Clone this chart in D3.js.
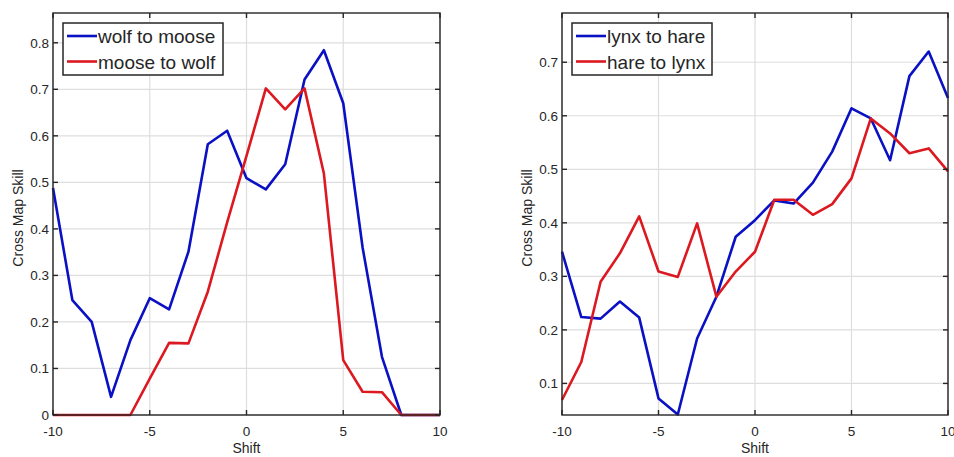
<!DOCTYPE html>
<html>
<head>
	<style>
		body { margin: 0; background: #fff; }
		svg { display: block; }
		text { font-family: "Liberation Sans", Arial, sans-serif; fill: #262626; }
	</style>
	<script src="https://d3js.org/d3.v7.min.js"></script>
</head>
<body>
	<svg id="chart" width="954" height="457"></svg>
<script>
// shift values shared by both panels
var shifts = [-10, -9, -8, -7, -6, -5, -4, -3, -2, -1, 0, 1, 2, 3, 4, 5, 6, 7, 8, 9, 10];

// left panel: wolf / moose
var wolfToMoose = [0.488, 0.247, 0.200, 0.039, 0.161, 0.251, 0.227, 0.351, 0.582, 0.611,
	0.509, 0.485, 0.539, 0.721, 0.784, 0.670, 0.360, 0.125, 0, 0, 0];
var mooseToWolf = [0, 0, 0, 0, 0, 0.078, 0.155, 0.154, 0.265, 0.414,
	0.557, 0.702, 0.657, 0.702, 0.519, 0.118, 0.050, 0.049, 0, 0, 0];

// right panel: lynx / hare
var lynxToHare = [0.346, 0.224, 0.221, 0.253, 0.223, 0.072, 0.042, 0.184, 0.262, 0.374,
	0.405, 0.442, 0.436, 0.475, 0.533, 0.614, 0.595, 0.517, 0.674, 0.720, 0.633];
var hareToLynx = [0.069, 0.140, 0.290, 0.343, 0.412, 0.309, 0.299, 0.399, 0.262, 0.309,
	0.346, 0.443, 0.443, 0.415, 0.435, 0.483, 0.595, 0.567, 0.530, 0.539, 0.496];

var xTicks = [-10, -5, 0, 5, 10];
var yTicksLeft = [0, 0.1, 0.2, 0.3, 0.4, 0.5, 0.6, 0.7, 0.8];
var yTicksRight = [0.1, 0.2, 0.3, 0.4, 0.5, 0.6, 0.7];

var blue = "#0a10c4";
var red = "#dc1820";
var axisColor = "#262626";
var gridColor = "#dedede";

var svg = d3.select("svg#chart");

function drawPanel(p) {
	let x = d3.scaleLinear().domain([-10, 10]).range([p.left, p.right]);
	let y = d3.scaleLinear().domain(p.yDomain).range([p.bottom, p.top]);
	let g = svg.append("g");

	// grid
	g.selectAll("line.gx").data(xTicks).enter().append("line")
		.attr("x1", d => x(d)).attr("x2", d => x(d))
		.attr("y1", p.top).attr("y2", p.bottom)
		.style("stroke", gridColor).style("stroke-width", 1.2);
	g.selectAll("line.gy").data(p.yTicks).enter().append("line")
		.attr("x1", p.left).attr("x2", p.right)
		.attr("y1", d => y(d)).attr("y2", d => y(d))
		.style("stroke", gridColor).style("stroke-width", 1.2);

	// series
	let line = d3.line().x((d, i) => x(shifts[i])).y(d => y(d));
	p.series.forEach(function(s) {
		g.append("path")
			.datum(s.values)
			.attr("d", line)
			.style("fill", "none")
			.style("stroke", s.color)
			.style("stroke-width", 2.6)
			.style("stroke-linejoin", "round");
	});

	// box
	g.append("rect")
		.attr("x", p.left).attr("y", p.top)
		.attr("width", p.right - p.left).attr("height", p.bottom - p.top)
		.style("fill", "none").style("stroke", axisColor).style("stroke-width", 1.4);

	// ticks pointing inward, also on top and right (box on)
	let tl = 5;
	xTicks.forEach(function(t) {
		g.append("line").attr("x1", x(t)).attr("x2", x(t))
			.attr("y1", p.bottom).attr("y2", p.bottom - tl)
			.style("stroke", axisColor).style("stroke-width", 1.4);
		g.append("line").attr("x1", x(t)).attr("x2", x(t))
			.attr("y1", p.top).attr("y2", p.top + tl)
			.style("stroke", axisColor).style("stroke-width", 1.4);
		g.append("text")
			.attr("x", x(t)).attr("y", p.bottom + 21)
			.attr("text-anchor", "middle")
			.style("font-size", "13.5px")
			.text(t);
	});
	p.yTicks.forEach(function(t) {
		g.append("line").attr("x1", p.left).attr("x2", p.left + tl)
			.attr("y1", y(t)).attr("y2", y(t))
			.style("stroke", axisColor).style("stroke-width", 1.4);
		g.append("line").attr("x1", p.right).attr("x2", p.right - tl)
			.attr("y1", y(t)).attr("y2", y(t))
			.style("stroke", axisColor).style("stroke-width", 1.4);
		g.append("text")
			.attr("x", p.left - 4).attr("y", y(t) + 5)
			.attr("text-anchor", "end")
			.style("font-size", "13.5px")
			.text(t);
	});

	// axis labels
	g.append("text")
		.attr("x", (p.left + p.right) / 2).attr("y", p.bottom + 38)
		.attr("text-anchor", "middle")
		.style("font-size", "14px")
		.text("Shift");
	g.append("text")
		.attr("transform", "translate(" + (p.left - 30) + "," + ((p.top + p.bottom) / 2 + 4) + ") rotate(-90)")
		.attr("text-anchor", "middle")
		.style("font-size", "14px")
		.text("Cross Map Skill");

	// legend
	let lx = p.left + 10, ly = p.top + 10, lw = p.legendWidth, lh = 52;
	g.append("rect")
		.attr("x", lx).attr("y", ly).attr("width", lw).attr("height", lh)
		.style("fill", "#fff").style("stroke", axisColor).style("stroke-width", 1.5);
	p.series.forEach(function(s, i) {
		let cy = ly + 13 + i * 25.5;
		g.append("line")
			.attr("x1", lx + 4).attr("x2", lx + 34)
			.attr("y1", cy).attr("y2", cy)
			.style("stroke", s.color).style("stroke-width", 2.6);
		g.append("text")
			.attr("x", lx + 35).attr("y", cy + 7)
			.style("font-size", "19px")
			.text(s.name);
	});
}

drawPanel({
	left: 53, right: 440, top: 13, bottom: 415,
	yDomain: [0, 0.864], yTicks: yTicksLeft, legendWidth: 160,
	series: [
		{ name: "wolf to moose", values: wolfToMoose, color: blue },
		{ name: "moose to wolf", values: mooseToWolf, color: red }
	]
});

drawPanel({
	left: 562, right: 948, top: 13, bottom: 415,
	yDomain: [0.041, 0.792], yTicks: yTicksRight, legendWidth: 140,
	series: [
		{ name: "lynx to hare", values: lynxToHare, color: blue },
		{ name: "hare to lynx", values: hareToLynx, color: red }
	]
});
</script>
</body>
</html>
